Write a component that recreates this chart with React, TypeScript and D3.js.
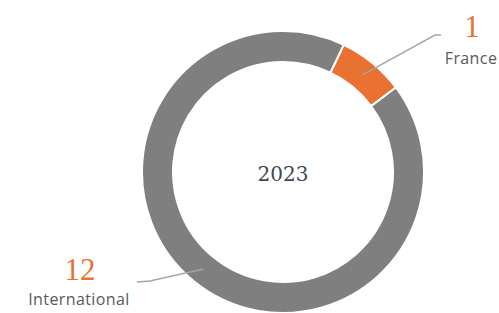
import React from "react"
import * as d3 from "d3"

const WIDTH = 499
const HEIGHT = 313

const categories = ["France", "International"]
const values = [1, 12]
const colors = ["#e97132", "#7f7f7f"]
const centerLabel = "2023"

// label positions (anchor, elbow, text) per slice
const labelLayout = [
  { elbow: [435, 35], end: [441, 35], valueX: 472, valueY: 37, nameX: 471, nameY: 64 },
  { elbow: [150, 281], end: [137, 282], valueX: 80, valueY: 280, nameX: 79, nameY: 305 },
]

export default function App() {
  const cx = 283
  const cy = 172
  const outerR = 141
  const innerR = 110

  const pie = d3
    .pie<number>()
    .sort(null)
    .startAngle((25.5 * Math.PI) / 180)
    .endAngle((25.5 * Math.PI) / 180 + 2 * Math.PI)
  const arcs = pie(values)
  const arc = d3.arc<d3.PieArcDatum<number>>().innerRadius(innerR).outerRadius(outerR)

  return (
    <svg
      width={WIDTH}
      height={HEIGHT}
      style={{ position: "absolute", left: 0, top: 0, background: "#fff" }}
    >
      <g transform={`translate(${cx},${cy})`}>
        {arcs.map((a, i) => (
          <path key={categories[i]} d={arc(a) || ""} fill={colors[i]} stroke="#fff" strokeWidth={2} />
        ))}
        <text
          x={0}
          y={9}
          textAnchor="middle"
          fontFamily="'DejaVu Serif', serif"
          fontSize={20}
          fill="#3e4955"
        >
          {centerLabel}
        </text>
      </g>

      {arcs.map((a, i) => {
        const [px, py] = arc.centroid(a)
        const l = labelLayout[i]
        const pts: [number, number][] = [[cx + px, cy + py], l.elbow as [number, number], l.end as [number, number]]
        return (
          <g key={categories[i] + "-label"}>
            <path d={d3.line()(pts) || ""} fill="none" stroke="#a6a6a6" strokeWidth={1.5} />
            <text
              x={l.valueX}
              y={l.valueY}
              textAnchor="middle"
              fontFamily="'Liberation Serif', serif"
              fontSize={31}
              fill="#e97132"
            >
              {values[i]}
            </text>
            <text
              x={l.nameX}
              y={l.nameY}
              textAnchor="middle"
              fontFamily="'Open Sans', sans-serif"
              fontSize={16}
              letterSpacing={0.4}
              fill="#595959"
            >
              {categories[i]}
            </text>
          </g>
        )
      })}
    </svg>
  )
}
